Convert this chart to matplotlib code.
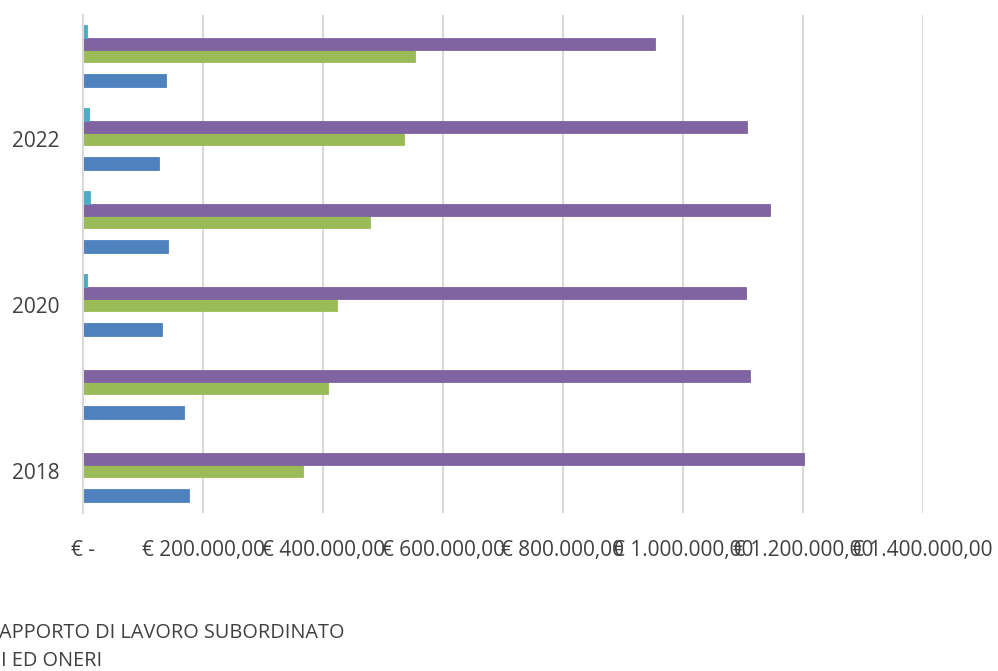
import matplotlib
matplotlib.use("Agg")
import matplotlib.pyplot as plt
import numpy as np

years = ["2018", "2019", "2020", "2021", "2022", "2023"]
year_labels = ["2018", "", "2020", "", "2022", ""]
# values in euro
blue = [177000, 168000, 131000, 142000, 127000, 138000]
red = [0, 0, 0, 0, 0, 0]
green = [367000, 409000, 424000, 479000, 535000, 554000]
purple = [1203000, 1112000, 1106000, 1146000, 1107000, 954000]
cyan = [0, 0, 7000, 11000, 10000, 7000]
series = [blue, red, green, purple, cyan]
colors = ["#4F81BD", "#C0504D", "#9BBB59", "#8064A2", "#4BACC6"]
xticks = [0, 200000, 400000, 600000, 800000, 1000000, 1200000, 1400000]
xtick_labels = ["€ -", "€ 200.000,00", "€ 400.000,00", "€ 600.000,00", "€ 800.000,00",
                "€ 1.000.000,00", "€ 1.200.000,00", "€ 1.400.000,00"]
legend_lines = ["APPORTO DI LAVORO SUBORDINATO", "I ED ONERI"]

plt.rcParams['font.family'] = ['Open Sans', 'DejaVu Sans']
W, H = 998, 671
fig = plt.figure(figsize=(W / 100, H / 100), dpi=100)
ax = fig.add_axes([83.3 / W, 1 - 512.5 / H, 839.3 / W, 498 / H])

y = np.arange(len(years))
w = 0.148
for i, (vals, c) in enumerate(zip(series, colors)):
    ax.barh(y + (i - 2) * w, vals, height=w, color=c, edgecolor=c, linewidth=0.6, zorder=3)

ax.set_ylim(-0.5, len(years) - 0.5)
ax.set_xlim(0, 1400000)
ax.set_yticks(y)
ax.set_yticklabels(year_labels)
ax.set_xticks(xticks)
ax.set_xticklabels(xtick_labels)
ax.tick_params(axis='y', length=0, pad=17, labelsize=15, labelcolor='#404040')
ax.tick_params(axis='x', length=0, pad=20, labelsize=15, labelcolor='#404040')
ax.grid(axis='x', color='#d9d9d9', linewidth=1.5, zorder=0)
for s in ['top', 'right', 'bottom']:
    ax.spines[s].set_visible(False)
ax.spines['left'].set_color('#d9d9d9')
ax.spines['left'].set_linewidth(1.5)
ax.spines['left'].set_zorder(4)

fig.text(-1 / W, 1 - 633 / H, legend_lines[0], fontsize=14.3, color='#404040', va='center', ha='left')
fig.text(1 / W, 1 - 661 / H, legend_lines[1], fontsize=14.3, color='#404040', va='center', ha='left')

fig.savefig("out.png", dpi=100)
